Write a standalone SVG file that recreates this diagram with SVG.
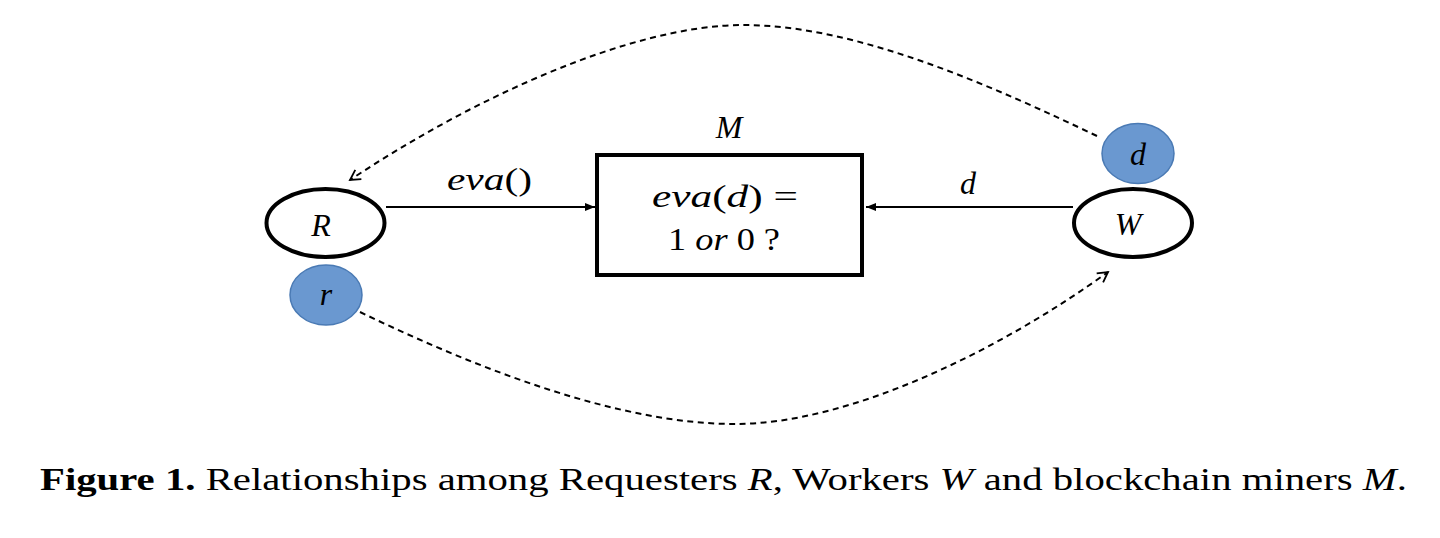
<svg xmlns="http://www.w3.org/2000/svg" width="1440" height="538" viewBox="0 0 1440 538">
<style>
.math{font-family:"Liberation Serif","Times New Roman",Tinos,"Noto Serif",serif;font-style:italic;font-size:32px;fill:#000}
.up{font-style:normal}
.ell{fill:#fff;stroke:#000;stroke-width:4}
.tok{fill:#6a98d0;stroke:#4a7ab4;stroke-width:1.5}
.solid{fill:none;stroke:#000;stroke-width:2.2}
.dash{fill:none;stroke:#000;stroke-width:2;stroke-dasharray:6 4.5}
.cap{font-family:"Liberation Serif","Times New Roman",Tinos,"Noto Serif",serif;font-size:31px;fill:#000}
</style>
<defs>
<marker id="tri" viewBox="0 0 10 10" refX="10" refY="5" markerWidth="10" markerHeight="10" markerUnits="userSpaceOnUse" orient="auto">
<path d="M0,1 L10,5 L0,9 z" fill="#000"/>
</marker>
<marker id="open" viewBox="0 0 14 14" refX="12" refY="7" markerWidth="14" markerHeight="14" markerUnits="userSpaceOnUse" orient="auto">
<path d="M2,1.5 L12,7 L2,12.5" fill="none" stroke="#000" stroke-width="1.8"/>
</marker>
</defs>
<rect width="1440" height="538" fill="#fff"/>

<g id="connectors">
<path class="solid" d="M386,207 L595,207" marker-end="url(#tri)"/>
<path class="solid" d="M1073,207 L866,207" marker-end="url(#tri)"/>
<path class="dash" d="M1097,136 C1000,90 860,25 744,25 C630,25 470,100 350,180" marker-end="url(#open)"/>
<path class="dash" d="M360,312 C480,370 620,424 735,424 C850,424 1000,350 1108,272" marker-end="url(#open)"/>
<text class="math" x="447" y="190" textLength="85" lengthAdjust="spacingAndGlyphs">eva<tspan class="up">()</tspan></text>
<text class="math" x="968" y="194" text-anchor="middle">d</text>
</g>

<g id="node-R">
<ellipse class="ell" cx="325.5" cy="223" rx="59" ry="34"/>
<text class="math" x="321" y="236" text-anchor="middle">R</text>
</g>
<g id="token-r">
<ellipse class="tok" cx="326" cy="295" rx="36" ry="30"/>
<text class="math" x="326" y="305" text-anchor="middle">r</text>
</g>

<g id="node-M">
<text class="math" x="729" y="138" text-anchor="middle">M</text>
<rect x="597" y="155" width="265" height="120" fill="#fff" stroke="#000" stroke-width="4"/>
<text class="math" x="652" y="207" textLength="146" lengthAdjust="spacingAndGlyphs">eva<tspan class="up">(</tspan>d<tspan class="up">) =</tspan></text>
<text class="math" x="668" y="250" textLength="112" lengthAdjust="spacingAndGlyphs"><tspan class="up">1 </tspan>or<tspan class="up"> 0 ?</tspan></text>
</g>

<g id="node-W">
<ellipse class="ell" cx="1133" cy="223" rx="59" ry="34"/>
<text class="math" x="1128" y="235" text-anchor="middle">W</text>
</g>
<g id="token-d">
<ellipse class="tok" cx="1138" cy="153.5" rx="36" ry="30"/>
<text class="math" x="1138" y="165" text-anchor="middle">d</text>
</g>

<text class="cap" x="40" y="490" textLength="1367" lengthAdjust="spacingAndGlyphs"><tspan font-weight="bold">Figure 1.</tspan> Relationships among Requesters <tspan font-style="italic">R</tspan>, Workers <tspan font-style="italic">W</tspan> and blockchain miners <tspan font-style="italic">M</tspan>.</text>
</svg>
